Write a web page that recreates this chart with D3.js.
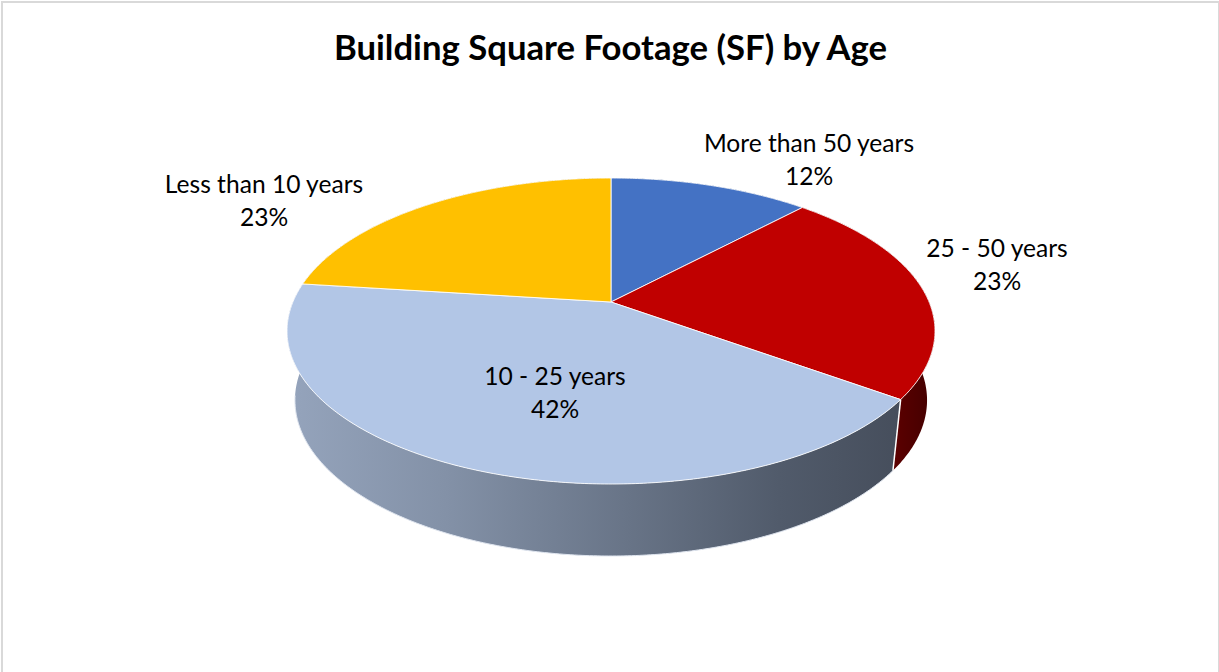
<!DOCTYPE html>
<html>
<head>
<meta charset="utf-8">
<script src="https://cdn.jsdelivr.net/npm/d3@7"></script>
<style>
  html, body { margin: 0; padding: 0; background: #fff; overflow: hidden; }
  text { font-family: Lato, "Open Sans", sans-serif; fill: #000; }
</style>
</head>
<body>
<div id="chart"></div>
<script>
// Chart data
const categories = ['More than 50 years', '25 - 50 years', '10 - 25 years', 'Less than 10 years'];
const percentages = [12, 23, 42, 23];
const chartTitle = 'Building Square Footage (SF) by Age';

// Styles
const faceColors = ['#4472c4', '#c00000', '#b2c6e6', '#ffc000'];
const wallColors = ['#2a4679', 'url(#wallRed)', 'url(#wallBlue)', '#9c7500'];
const labelAnchors = [[809, 152], [997, 257], [555, 385], [264, 193]];

const width = 1219;
const height = 672;

// Perspective of the disc: apex on screen, and how the plane tilts away
const apex = { x: 611, y: 302 };
const view = { a: 318.1, b: 147.5, bRim: 141, k: 0.1896, m: 0.0242, e: 71 };

// theta is clockwise from the top of the pie, z is 0 on the top face and 1 on the bottom rim
function project(theta, z, r = 1) {
  const u = r * Math.sin(theta);
  const v = r * Math.cos(theta);
  const w = 1 + view.k * v + view.m * z;
  const b = view.b + (view.bRim - view.b) * z;
  return [apex.x + view.a * u / w, apex.y - (b * v - view.e * z) / w];
}

function arcPoints(start, end, z) {
  const steps = Math.max(2, Math.ceil((end - start) / 0.01));
  return d3.range(steps + 1).map(i => project(start + (end - start) * i / steps, z));
}

const svg = d3.select('#chart').append('svg')
  .attr('width', width)
  .attr('height', height)
  .style('display', 'block');

// Side wall shading
const defs = svg.append('defs');

const wallBlue = defs.append('linearGradient')
  .attr('id', 'wallBlue')
  .attr('gradientUnits', 'userSpaceOnUse')
  .attr('x1', 295).attr('x2', 900).attr('y1', 0).attr('y2', 0);
[[0, '#94a3bb'], [0.25, '#8391a7'], [0.55, '#687487'], [0.8, '#515b6b'], [1, '#464e5c']].forEach(s => {
  wallBlue.append('stop').attr('offset', s[0]).attr('stop-color', s[1]);
});

const wallRed = defs.append('linearGradient')
  .attr('id', 'wallRed')
  .attr('gradientUnits', 'userSpaceOnUse')
  .attr('x1', 893).attr('x2', 935).attr('y1', 0).attr('y2', 0);
[[0, '#5c0000'], [1, '#420000']].forEach(s => {
  wallRed.append('stop').attr('offset', s[0]).attr('stop-color', s[1]);
});

// Chart frame, open at the bottom like the reference
svg.append('rect')
  .attr('x', 2).attr('y', 2)
  .attr('width', 1217).attr('height', 720)
  .attr('fill', '#fff')
  .attr('stroke', '#d9d9d9')
  .attr('stroke-width', 2);

svg.append('text')
  .attr('x', 610.5)
  .attr('y', 60)
  .attr('text-anchor', 'middle')
  .style('font-size', '34.7px')
  .style('font-weight', '700')
  .text(chartTitle);

const pie = d3.pie().sort(null);
const slices = pie(percentages);
const line = d3.line();

// Walls first, the top face covers whatever faces away from us
svg.append('g')
  .selectAll('path')
  .data(slices)
  .join('path')
  .attr('d', d => {
    const top = arcPoints(d.startAngle, d.endAngle, 0);
    const bottom = arcPoints(d.startAngle, d.endAngle, 1).reverse();
    return line(top.concat(bottom)) + 'Z';
  })
  .attr('fill', (d, i) => wallColors[i])
  .attr('stroke', 'none');

// Pale outer rim of the bottom edge
svg.append('path')
  .attr('d', line(arcPoints(Math.PI * 0.7, Math.PI * 1.45, 1)))
  .attr('fill', 'none')
  .attr('stroke', '#dfe5ef')
  .attr('stroke-width', 1);

// White edge between the red and blue walls
const redEnd = slices[1].endAngle;
svg.append('path')
  .attr('d', line([project(redEnd, 0), project(redEnd, 1)]))
  .attr('stroke', '#fff')
  .attr('stroke-width', 1.5)
  .attr('fill', 'none');

// Top faces
svg.append('g')
  .selectAll('path')
  .data(slices)
  .join('path')
  .attr('d', d => line([project(0, 0, 0)].concat(arcPoints(d.startAngle, d.endAngle, 0))) + 'Z')
  .attr('fill', (d, i) => faceColors[i])
  .attr('stroke', '#fff')
  .attr('stroke-opacity', 0.85)
  .attr('stroke-width', 1)
  .attr('stroke-linejoin', 'round');

// Data labels, category over percentage
const labels = svg.append('g')
  .selectAll('text')
  .data(slices)
  .join('text')
  .attr('text-anchor', 'middle')
  .style('font-size', '24.6px');

labels.append('tspan')
  .attr('x', (d, i) => labelAnchors[i][0])
  .attr('y', (d, i) => labelAnchors[i][1])
  .text((d, i) => categories[i]);

labels.append('tspan')
  .attr('x', (d, i) => labelAnchors[i][0])
  .attr('y', (d, i) => labelAnchors[i][1] + 33)
  .text(d => d.value + '%');
</script>
</body>
</html>
